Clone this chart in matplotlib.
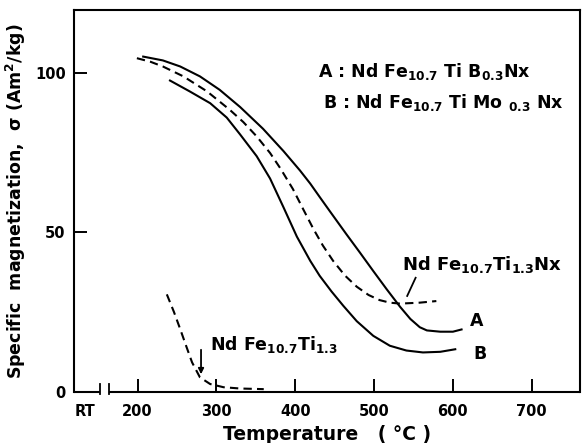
import matplotlib
matplotlib.use("Agg")
import matplotlib.pyplot as plt
import numpy as np

plt.rcParams['font.family'] = ['DejaVu Sans']
plt.rcParams['font.weight'] = 'bold'
plt.rcParams['mathtext.fontset'] = 'custom'
plt.rcParams['mathtext.rm'] = 'DejaVu Sans:bold'
plt.rcParams['mathtext.it'] = 'DejaVu Sans:bold'
plt.rcParams['mathtext.bf'] = 'DejaVu Sans:bold'
plt.rcParams['mathtext.default'] = 'rm'

# Curve A: NdFe10.7TiB0.3Nx
a_T = [207, 232, 254, 279, 304, 330, 359, 385, 406, 419, 431, 444, 465, 482,
       499, 516, 533, 546, 558, 567, 584, 600, 611]
a_s = [105.0, 103.8, 101.9, 98.8, 94.6, 89.2, 82.4, 75.4, 69.3, 65.2, 61.0, 56.5,
       49.3, 43.6, 37.8, 32.1, 26.6, 22.8, 20.2, 19.2, 18.8, 18.8, 19.5]
# Curve B: NdFe10.7TiMo0.3Nx
b_T = [241, 266, 292, 313, 330, 351, 368, 385, 402, 419, 431, 446, 461,
       478, 499, 520, 541, 562, 584, 603]
b_s = [97.5, 94.1, 90.4, 85.9, 80.6, 73.8, 66.8, 57.8, 48.6, 41.0, 36.3, 31.4,
       26.9, 22.1, 17.5, 14.4, 12.9, 12.3, 12.5, 13.3]
# NdFe10.7Ti1.3Nx (dashed)
n_T = [199, 216, 232, 258, 288, 317, 334, 351, 368, 381, 397, 410, 423, 435,
       448, 463, 478, 493, 507, 520, 533, 558, 579]
n_s = [104.5, 103.4, 101.9, 98.8, 94.1, 88.3, 84.5, 80.0, 74.8, 70.0, 63.5, 57.2,
       51.0, 45.8, 41.0, 36.4, 32.9, 30.3, 28.7, 27.9, 27.6, 27.9, 28.4]
# NdFe10.7Ti1.3 (dashed, low)
t_T = [237, 246, 254, 262, 269, 279, 292, 309, 330, 360]
t_s = [30.5, 25.0, 19.6, 14.0, 9.2, 4.5, 2.4, 1.4, 1.0, 0.8]

xtick_vals = [133, 200, 300, 400, 500, 600, 700]
xtick_labels = ['RT', '200', '300', '400', '500', '600', '700']
ytick_vals = [0, 50, 100]

fig = plt.figure(figsize=(5.86, 4.43), dpi=100)
ax = fig.add_axes([74/586, 1-391.7/443, (580-74)/586, (391.7-10)/443])

lw = 1.5
ax.plot(a_T, a_s, color='black', lw=lw, solid_joinstyle='round')
ax.plot(b_T, b_s, color='black', lw=lw, solid_joinstyle='round')
ax.plot(n_T, n_s, color='black', lw=lw, ls=(0, (4, 2.5)))
ax.plot(t_T, t_s, color='black', lw=lw, ls=(0, (4, 2.5)))

ax.set_xlim(119.2, 761.3)
ax.set_ylim(0, 119.6)

ax.set_xticks(xtick_vals)
ax.set_xticklabels(xtick_labels)
ax.set_yticks(ytick_vals)
ax.tick_params(direction='in', length=9.4, width=1.4, labelsize=10.5, pad=6)
ax.tick_params(axis='x', pad=9)
ax.xaxis.get_major_ticks()[0].tick1line.set_visible(False)
for t in ax.get_xticklabels() + ax.get_yticklabels():
    t.set_fontweight('bold')

for s in ['top', 'right', 'left']:
    ax.spines[s].set_linewidth(1.5)
ax.spines['bottom'].set_visible(False)

# broken bottom axis
ax.plot([119.2, 152], [0, 0], color='black', lw=1.5, clip_on=False, solid_capstyle='butt')
ax.plot([163.5, 761.3], [0, 0], color='black', lw=1.5, clip_on=False, solid_capstyle='butt')
ax.plot([152, 152], [-0.6, 2.3], color='black', lw=1.3, clip_on=False)
ax.plot([163.5, 163.5], [-0.6, 2.3], color='black', lw=1.3, clip_on=False)

ax.set_xlabel('Temperature   ( °C )', fontsize=13.5, fontweight='bold', labelpad=4)
ax.set_ylabel(r'Specific  magnetization,  $\sigma$ (Am$^2$/kg)', fontsize=12.5,
              fontweight='bold', labelpad=5)

ax.text(428.8, 100.2, r'A : Nd Fe$_{10.7}$ Ti B$_{0.3}$Nx', fontsize=12.5, va='center', ha='left')
ax.text(435, 90.5, r'B : Nd Fe$_{10.7}$ Ti Mo $_{0.3}$ Nx', fontsize=12.5, va='center', ha='left')

ax.text(630, 22.2, 'A', fontsize=12.5, va='center', ha='center')
ax.text(634.4, 11.8, 'B', fontsize=12.5, va='center', ha='center')

ax.text(637.6, 40.0, r'Nd Fe$_{10.7}$Ti$_{1.3}$Nx', fontsize=13, va='center', ha='center')
ax.plot([542, 552.7], [30.0, 35.7], color='black', lw=1.3)

ax.text(291.7, 14.9, r'Nd Fe$_{10.7}$Ti$_{1.3}$', fontsize=12.5, va='center', ha='left')
ax.annotate('', xy=(280.4, 4.6), xytext=(280.4, 14.0),
            arrowprops=dict(arrowstyle='-|>', color='black', lw=1.3, mutation_scale=8))

fig.savefig('out.png', dpi=100)
